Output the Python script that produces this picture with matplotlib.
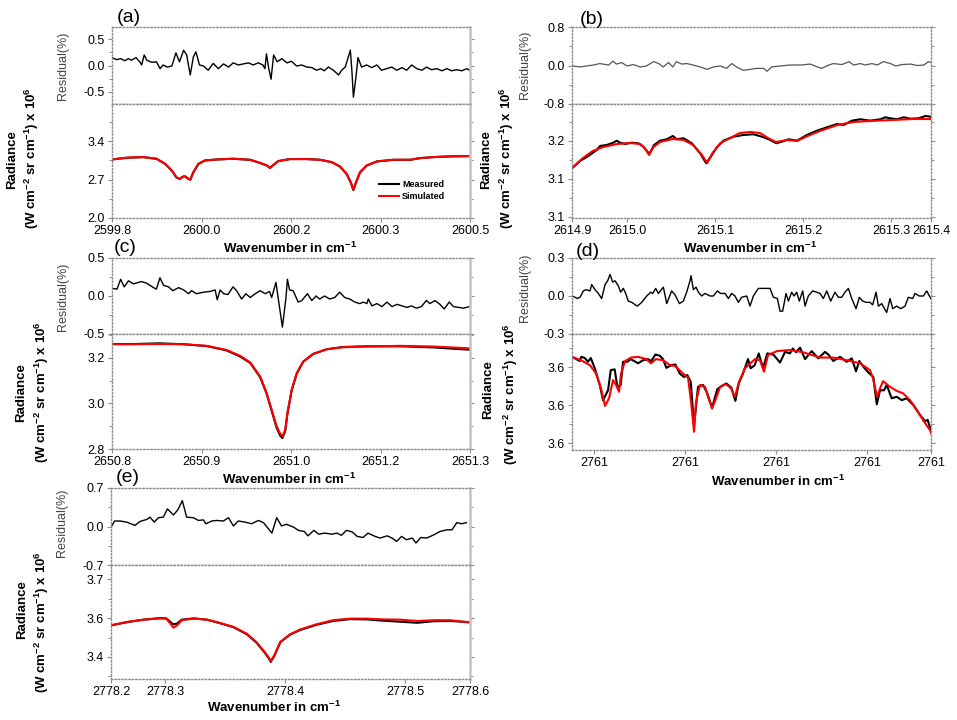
import matplotlib
matplotlib.use('Agg')
import matplotlib.pyplot as plt
from matplotlib.ticker import AutoMinorLocator

plt.rcParams['font.family'] = ['Liberation Sans', 'DejaVu Sans']
plt.rcParams['mathtext.fontset'] = 'custom'
plt.rcParams['mathtext.rm'] = 'Liberation Sans'
plt.rcParams['mathtext.bf'] = 'Liberation Sans:bold'
plt.rcParams['mathtext.it'] = 'Liberation Sans:italic'

# ---------------- panel (a) ----------------
a_res_x = [2599.800, 2599.809, 2599.817, 2599.825, 2599.832, 2599.838, 2599.847, 2599.855, 2599.858, 2599.863,
           2599.868, 2599.878, 2599.887, 2599.894, 2599.900, 2599.908, 2599.917, 2599.925, 2599.932, 2599.940,
           2599.946, 2599.953, 2599.959, 2599.964, 2599.971, 2599.979, 2599.988, 2599.998, 2600.008, 2600.018,
           2600.028, 2600.037, 2600.047, 2600.057, 2600.067, 2600.076, 2600.086, 2600.095, 2600.099, 2600.102,
           2600.106, 2600.111, 2600.116, 2600.123, 2600.132, 2600.142, 2600.151, 2600.161, 2600.171, 2600.181,
           2600.191, 2600.200, 2600.208, 2600.215, 2600.223, 2600.233, 2600.243, 2600.249, 2600.256, 2600.262,
           2600.266, 2600.269, 2600.272, 2600.277, 2600.281, 2600.288, 2600.298, 2600.308, 2600.318, 2600.327,
           2600.337, 2600.347, 2600.357, 2600.367, 2600.376, 2600.386, 2600.396, 2600.406, 2600.415, 2600.425,
           2600.435, 2600.445, 2600.455, 2600.464, 2600.474, 2600.484, 2600.494, 2600.499]
a_res = [0.15, 0.11, 0.13, 0.09, 0.13, 0.10, 0.15, 0.06, 0.01, 0.20,
         0.10, 0.06, 0.07, -0.06, 0.01, -0.03, -0.01, 0.24, 0.07, 0.29,
         0.20, -0.18, 0.16, 0.26, 0.01, -0.01, -0.09, 0.04, -0.06, 0.03,
         -0.03, 0.05, 0.01, 0.03, 0.05, 0.01, 0.05, 0.01, -0.06, 0.22,
         -0.03, -0.26, 0.20, 0.07, 0.13, 0.05, 0.08, -0.01, 0.01, -0.03,
         -0.04, -0.09, -0.06, -0.10, -0.03, -0.09, -0.18, -0.09, -0.03, 0.16,
         0.29, -0.09, -0.60, -0.22, 0.15, -0.03, 0.01, -0.04, 0.01, -0.09,
         -0.06, -0.03, -0.09, -0.04, -0.09, 0.01, -0.06, -0.09, -0.03, -0.08,
         -0.06, -0.10, -0.06, -0.10, -0.08, -0.10, -0.06, -0.09]
a_x = [2599.800, 2599.829, 2599.861, 2599.887, 2599.904, 2599.917, 2599.926, 2599.933, 2599.938, 2599.943,
       2599.949, 2599.953, 2599.959, 2599.969, 2599.982, 2600.005, 2600.037, 2600.070, 2600.089, 2600.103,
       2600.109, 2600.114, 2600.125, 2600.148, 2600.181, 2600.207, 2600.230, 2600.246, 2600.259, 2600.267,
       2600.272, 2600.277, 2600.285, 2600.298, 2600.318, 2600.350, 2600.383, 2600.402, 2600.429, 2600.461,
       2600.499]
a_sim = [3.068, 3.099, 3.111, 3.081, 2.989, 2.866, 2.743, 2.712, 2.755, 2.761,
         2.718, 2.700, 2.835, 2.989, 3.050, 3.068, 3.081, 3.062, 3.007, 2.958,
         2.915, 2.958, 3.038, 3.075, 3.075, 3.062, 3.019, 2.939, 2.804, 2.651,
         2.516, 2.651, 2.835, 2.958, 3.032, 3.062, 3.062, 3.093, 3.111, 3.124,
         3.130]
a_meas = [3.068, 3.100, 3.111, 3.080, 2.987, 2.864, 2.740, 2.710, 2.752, 2.759,
          2.715, 2.697, 2.833, 2.988, 3.050, 3.068, 3.081, 3.062, 3.006, 2.956,
          2.912, 2.956, 3.038, 3.075, 3.075, 3.062, 3.018, 2.937, 2.800, 2.645,
          2.508, 2.645, 2.833, 2.957, 3.032, 3.062, 3.062, 3.092, 3.111, 3.124,
          3.130]
a_xticks = [2599.8, 2599.975, 2600.15, 2600.325, 2600.5]
a_xlabels = ['2599.8', '2600.0', '2600.2', '2600.3', '2600.5']
a_res_ticks = [0.5, 0.0, -0.5]
a_res_labels = ['0.5', '0.0', '-0.5']
a_yticks = [2.0, 2.7, 3.4]
a_ylabels = ['2.0', '2.7', '3.4']

# ---------------- panel (b) ----------------
b_res_x = [2614.938, 2614.947, 2614.954, 2614.962, 2614.969, 2614.979, 2614.984, 2614.988, 2614.994, 2615.000,
           2615.007, 2615.015, 2615.022, 2615.030, 2615.036, 2615.041, 2615.047, 2615.052, 2615.056, 2615.062,
           2615.068, 2615.075, 2615.083, 2615.091, 2615.098, 2615.106, 2615.113, 2615.119, 2615.125, 2615.132,
           2615.140, 2615.147, 2615.155, 2615.159, 2615.164, 2615.174, 2615.185, 2615.197, 2615.208, 2615.216,
           2615.221, 2615.229, 2615.234, 2615.244, 2615.252, 2615.257, 2615.265, 2615.270, 2615.278, 2615.284,
           2615.291, 2615.299, 2615.305, 2615.312, 2615.322, 2615.329, 2615.337, 2615.342, 2615.345]
b_res = [-0.01, -0.03, -0.01, 0.01, 0.04, 0.01, 0.09, 0.03, 0.06, -0.01,
         0.02, -0.03, -0.01, 0.08, 0.04, -0.03, 0.06, -0.03, 0.08, 0.03,
         0.04, 0.01, -0.03, -0.08, -0.03, -0.01, -0.06, 0.04, -0.04, -0.10,
         -0.08, -0.06, -0.06, -0.12, -0.03, -0.01, 0.01, 0.01, 0.03, -0.03,
         -0.06, 0.01, 0.04, 0.02, 0.08, 0.01, 0.04, 0.01, 0.04, 0.01,
         0.08, 0.04, -0.01, 0.02, 0.03, 0.00, 0.01, 0.08, 0.06]
b_sim_x = [2614.9375, 2614.950, 2614.961, 2614.973, 2614.989, 2615.003, 2615.015, 2615.020, 2615.025, 2615.030,
           2615.0375, 2615.052, 2615.064, 2615.075, 2615.085, 2615.091, 2615.097, 2615.106, 2615.117, 2615.128,
           2615.140, 2615.151, 2615.160, 2615.169, 2615.182, 2615.193, 2615.205, 2615.219, 2615.239, 2615.257,
           2615.276, 2615.302, 2615.325, 2615.344]
b_sim = [3.1374, 3.1532, 3.1642, 3.1705, 3.1753, 3.1768, 3.1753, 3.1689, 3.1579, 3.1705,
         3.1784, 3.1832, 3.1816, 3.1737, 3.1579, 3.1453, 3.1611, 3.1768, 3.1847, 3.1926,
         3.1942, 3.1926, 3.1847, 3.1784, 3.1816, 3.1800, 3.1879, 3.1958, 3.2053, 3.2100,
         3.2116, 3.2132, 3.2147, 3.2147]
b_meas_x = [2614.9375, 2614.9466, 2614.9560, 2614.9656, 2614.9693, 2614.9769, 2614.9844, 2614.9883, 2614.9920, 2614.9977,
            2615.0053, 2615.0128, 2615.0185, 2615.0253, 2615.0307, 2615.0375, 2615.0451, 2615.0519, 2615.0565, 2615.0640,
            2615.0735, 2615.0830, 2615.0898, 2615.0963, 2615.1019, 2615.1094, 2615.1208, 2615.1322, 2615.1435, 2615.1531,
            2615.1625, 2615.1693, 2615.1758, 2615.1833, 2615.1928, 2615.2042, 2615.2156, 2615.2269, 2615.2383, 2615.2458,
            2615.2553, 2615.2648, 2615.2761, 2615.2875, 2615.2932, 2615.2989, 2615.3065, 2615.3140, 2615.3216, 2615.3310,
            2615.3386, 2615.3443]
b_meas = [3.1369, 3.1484, 3.1563, 3.1658, 3.1721, 3.1737, 3.1773, 3.1805, 3.1773, 3.1753,
          3.1773, 3.1764, 3.1710, 3.1595, 3.1737, 3.1805, 3.1827, 3.1879, 3.1827, 3.1843,
          3.1764, 3.1606, 3.1448, 3.1579, 3.1701, 3.1805, 3.1868, 3.1895, 3.1906, 3.1868,
          3.1816, 3.1764, 3.1789, 3.1827, 3.1805, 3.1895, 3.1963, 3.2016, 3.2068, 3.2053,
          3.2121, 3.2143, 3.2121, 3.2143, 3.2174, 3.2158, 3.2143, 3.2174, 3.2152, 3.2158,
          3.2195, 3.2184]
b_xticks = [2614.9375, 2615.0, 2615.1, 2615.2, 2615.3, 2615.345]
b_xlabels = ['2614.9', '2615.0', '2615.1', '2615.2', '2615.3', '2615.4']
b_res_ticks = [0.8, 0.0, -0.8]
b_res_labels = ['0.8', '0.0', '-0.8']
b_yticks = [3.06, 3.12, 3.18]
b_ylabels = ['3.1', '3.1', '3.2']

# ---------------- panel (c) ----------------
c_res_x = [2650.801, 2650.807, 2650.812, 2650.817, 2650.823, 2650.830, 2650.841, 2650.848, 2650.858, 2650.862,
           2650.867, 2650.872, 2650.879, 2650.885, 2650.893, 2650.900, 2650.907, 2650.911, 2650.918, 2650.928,
           2650.937, 2650.944, 2650.947, 2650.951, 2650.956, 2650.962, 2650.969, 2650.974, 2650.981, 2650.987,
           2650.993, 2651.000, 2651.007, 2651.014, 2651.020, 2651.023, 2651.029, 2651.032, 2651.038, 2651.043,
           2651.045, 2651.048, 2651.053, 2651.060, 2651.065, 2651.073, 2651.079, 2651.085, 2651.090, 2651.097,
           2651.104, 2651.111, 2651.118, 2651.125, 2651.132, 2651.139, 2651.146, 2651.151, 2651.156, 2651.158,
           2651.163, 2651.170, 2651.177, 2651.184, 2651.191, 2651.198, 2651.205, 2651.212, 2651.218, 2651.225,
           2651.232, 2651.239, 2651.244, 2651.251, 2651.258, 2651.264, 2651.271, 2651.277, 2651.284, 2651.291,
           2651.299]
c_res = [0.10, 0.09, 0.22, 0.12, 0.20, 0.16, 0.19, 0.17, 0.11, 0.09,
         0.24, 0.14, 0.12, 0.07, 0.11, 0.08, 0.03, 0.07, 0.03, 0.05,
         0.06, 0.08, -0.05, 0.08, 0.03, 0.02, 0.12, 0.07, -0.04, 0.03,
         -0.02, 0.03, 0.07, 0.03, 0.06, -0.02, 0.18, -0.02, -0.41, -0.02,
         0.22, 0.08, 0.07, -0.08, -0.06, 0.03, -0.06, 0.00, -0.04, 0.00,
         -0.04, -0.02, 0.05, -0.02, -0.04, -0.08, -0.10, -0.08, -0.10, -0.04,
         -0.13, -0.10, -0.14, -0.08, -0.14, -0.11, -0.13, -0.15, -0.13, -0.16,
         -0.14, -0.06, -0.10, -0.06, -0.11, -0.17, -0.08, -0.14, -0.15, -0.16,
         -0.14]
c_x = [2650.801, 2650.830, 2650.867, 2650.900, 2650.932, 2650.960, 2650.979, 2650.993, 2651.007, 2651.016,
       2651.023, 2651.030, 2651.035, 2651.038, 2651.042, 2651.045, 2651.051, 2651.058, 2651.067, 2651.081,
       2651.100, 2651.123, 2651.156, 2651.202, 2651.249, 2651.299]
c_sim = [3.260, 3.260, 3.261, 3.260, 3.253, 3.235, 3.209, 3.180, 3.118, 3.045,
         2.972, 2.899, 2.867, 2.855, 2.885, 2.958, 3.060, 3.133, 3.184, 3.218,
         3.238, 3.247, 3.250, 3.253, 3.250, 3.242]
c_meas = [3.261, 3.261, 3.264, 3.260, 3.252, 3.233, 3.206, 3.178, 3.115, 3.043,
          2.968, 2.893, 2.858, 2.848, 2.880, 2.955, 3.058, 3.131, 3.183, 3.217,
          3.238, 3.248, 3.251, 3.251, 3.246, 3.236]
c_xticks = [2650.8, 2650.925, 2651.05, 2651.175, 2651.3]
c_xlabels = ['2650.8', '2650.9', '2651.0', '2651.2', '2651.3']
c_res_ticks = [0.5, 0.0, -0.5]
c_res_labels = ['0.5', '0.0', '-0.5']
c_yticks = [2.8, 3.0, 3.2]
c_ylabels = ['2.8', '3.0', '3.2']

# ---------------- panel (d) ----------------
d_res_x = [2760.7758, 2760.7791, 2760.7817, 2760.7846, 2760.7883, 2760.7912, 2760.7956, 2760.7974, 2760.8011, 2760.8048,
           2760.8084, 2760.8121, 2760.8150, 2760.8176, 2760.8205, 2760.8231, 2760.8267, 2760.8293, 2760.8322, 2760.8348,
           2760.8377, 2760.8414, 2760.8476, 2760.8524, 2760.8579, 2760.8623, 2760.8645, 2760.8678, 2760.8707, 2760.8762,
           2760.8799, 2760.8853, 2760.8890, 2760.8938, 2760.8982, 2760.9018, 2760.9055, 2760.9066, 2760.9092, 2760.9121,
           2760.9147, 2760.9183, 2760.9220, 2760.9275, 2760.9311, 2760.9355, 2760.9392, 2760.9440, 2760.9476, 2760.9513,
           2760.9549, 2760.9586, 2760.9623, 2760.9678, 2760.9714, 2760.9751, 2760.9806, 2760.9861, 2760.9934, 2760.9971,
           2761.0015, 2761.0044, 2761.0073, 2761.0110, 2761.0136, 2761.0172, 2761.0198, 2761.0227, 2761.0256, 2761.0293,
           2761.0319, 2761.0355, 2761.0403, 2761.0447, 2761.0484, 2761.0520, 2761.0557, 2761.0601, 2761.0648, 2761.0685,
           2761.0722, 2761.0758, 2761.0795, 2761.0832, 2761.0879, 2761.0916, 2761.0952, 2761.0989, 2761.1033, 2761.1062,
           2761.1099, 2761.1125, 2761.1161, 2761.1216, 2761.1253, 2761.1282, 2761.1326, 2761.1370, 2761.1418, 2761.1454,
           2761.1502, 2761.1527, 2761.1575, 2761.1619, 2761.1656, 2761.1685, 2761.1703]
d_res = [0.00, -0.01, -0.02, -0.01, 0.04, 0.05, 0.04, 0.09, 0.05, 0.02,
         -0.02, 0.09, 0.12, 0.17, 0.11, 0.12, 0.08, 0.03, 0.06, 0.02,
         -0.04, -0.05, -0.08, -0.05, 0.00, 0.03, 0.02, 0.06, 0.02, 0.07,
         -0.06, 0.04, 0.01, -0.06, -0.04, 0.03, 0.12, 0.16, 0.05, 0.07,
         0.03, 0.00, 0.02, 0.00, 0.00, 0.04, 0.02, 0.02, -0.02, 0.02,
         0.00, -0.05, -0.01, 0.00, -0.08, 0.00, 0.06, 0.06, 0.06, -0.01,
         -0.02, -0.12, -0.12, 0.02, -0.04, 0.03, 0.00, 0.03, -0.04, 0.04,
         -0.08, 0.00, 0.04, 0.03, 0.02, -0.02, 0.04, -0.04, 0.03, -0.01,
         -0.01, 0.03, 0.06, -0.02, -0.10, -0.01, -0.04, -0.05, -0.05, -0.07,
         0.03, -0.08, -0.06, -0.13, -0.02, -0.10, -0.08, -0.10, -0.08, -0.01,
         -0.02, 0.02, 0.00, 0.00, 0.04, 0.00, -0.02]
d_sim_x = [2760.7758, 2760.7857, 2760.7956, 2760.8022, 2760.8077, 2760.8121, 2760.8165, 2760.8209, 2760.8242, 2760.8275,
           2760.8297, 2760.8341, 2760.8407, 2760.8484, 2760.8571, 2760.8626, 2760.8681, 2760.8758, 2760.8835, 2760.8890,
           2760.8956, 2760.9033, 2760.9066, 2760.9099, 2760.9121, 2760.9165, 2760.9220, 2760.9253, 2760.9297, 2760.9341,
           2760.9385, 2760.9451, 2760.9505, 2760.9549, 2760.9593, 2760.9659, 2760.9769, 2760.9824, 2760.9868, 2760.9912,
           2761.0011, 2761.0154, 2761.0297, 2761.0484, 2761.0626, 2761.0780, 2761.0923, 2761.1033, 2761.1066, 2761.1110,
           2761.1143, 2761.1176, 2761.1253, 2761.1330, 2761.1396, 2761.1473, 2761.1549, 2761.1615, 2761.1692, 2761.1714]
d_sim = [3.6027, 3.6018, 3.6005, 3.5983, 3.5944, 3.5898, 3.5918, 3.5966, 3.5953, 3.5935,
         3.5983, 3.6016, 3.6025, 3.6027, 3.6021, 3.6010, 3.6021, 3.6018, 3.6005, 3.6003,
         3.5988, 3.5972, 3.5909, 3.5830, 3.5909, 3.5953, 3.5948, 3.5922, 3.5891, 3.5918,
         3.5948, 3.5955, 3.5944, 3.5922, 3.5961, 3.5997, 3.6021, 3.6018, 3.5988, 3.6032,
         3.6042, 3.6045, 3.6039, 3.6025, 3.6025, 3.6018, 3.6010, 3.5992, 3.5970, 3.5922,
         3.5944, 3.5963, 3.5948, 3.5937, 3.5931, 3.5913, 3.5887, 3.5861, 3.5834, 3.5821]
d_meas_x = [2760.7758, 2760.7805, 2760.7843, 2760.7860, 2760.7898, 2760.7934, 2760.7964, 2760.8008, 2760.8063, 2760.8099,
            2760.8154, 2760.8184, 2760.8227, 2760.8256, 2760.8293, 2760.8319, 2760.8366, 2760.8403, 2760.8440, 2760.8484,
            2760.8538, 2760.8593, 2760.8630, 2760.8674, 2760.8722, 2760.8758, 2760.8795, 2760.8849, 2760.8893, 2760.8942,
            2760.8989, 2760.9025, 2760.9063, 2760.9099, 2760.9143, 2760.9198, 2760.9245, 2760.9297, 2760.9355, 2760.9407,
            2760.9454, 2760.9509, 2760.9553, 2760.9590, 2760.9637, 2760.9692, 2760.9722, 2760.9766, 2760.9810, 2760.9857,
            2760.9904, 2760.9970, 2761.0044, 2761.0099, 2761.0154, 2761.0184, 2761.0220, 2761.0264, 2761.0319, 2761.0392,
            2761.0465, 2761.0538, 2761.0575, 2761.0630, 2761.0703, 2761.0777, 2761.0832, 2761.0879, 2761.0915, 2761.0959,
            2761.1014, 2761.1069, 2761.1107, 2761.1143, 2761.1187, 2761.1216, 2761.1271, 2761.1326, 2761.1381, 2761.1436,
            2761.1509, 2761.1582, 2761.1637, 2761.1667, 2761.1711]
d_meas = [3.6027, 3.6021, 3.6016, 3.6027, 3.6024, 3.6014, 3.6024, 3.5997, 3.5953, 3.5913,
          3.5939, 3.5992, 3.5994, 3.5948, 3.5953, 3.6014, 3.6014, 3.6021, 3.6016, 3.6010,
          3.6018, 3.6021, 3.6016, 3.6033, 3.6030, 3.6021, 3.5998, 3.6005, 3.6007, 3.5983,
          3.5974, 3.5979, 3.5961, 3.5847, 3.5948, 3.5953, 3.5931, 3.5893, 3.5942, 3.5951,
          3.5957, 3.5946, 3.5911, 3.5957, 3.5983, 3.6021, 3.5997, 3.6005, 3.6036, 3.5997,
          3.6036, 3.6033, 3.6012, 3.6040, 3.6036, 3.6049, 3.6039, 3.6051, 3.6021, 3.6042,
          3.6023, 3.6040, 3.6033, 3.6016, 3.6027, 3.6014, 3.6023, 3.5989, 3.6016, 3.6001,
          3.5986, 3.5974, 3.5902, 3.5939, 3.5939, 3.5953, 3.5918, 3.5922, 3.5913, 3.5918,
          3.5900, 3.5874, 3.5858, 3.5861, 3.5826]
d_xticks = [2760.8, 2760.9, 2761.0, 2761.1, 2761.1703]
d_xlabels = ['2761', '2761', '2761', '2761', '2761']
d_res_ticks = [0.3, 0.0, -0.3]
d_res_labels = ['0.3', '0.0', '-0.3']
d_yticks = [3.58, 3.59, 3.60]
d_ylabels = ['3.6', '3.6', '3.6']

# ---------------- panel (e) ----------------
e_res_x = [2778.255, 2778.258, 2778.2625, 2778.268, 2778.275, 2778.279, 2778.285, 2778.2875, 2778.291, 2778.2945,
           2778.2986, 2778.302, 2778.307, 2778.3106, 2778.3144, 2778.318, 2778.3236, 2778.3278, 2778.332, 2778.334,
           2778.339, 2778.343, 2778.3486, 2778.3528, 2778.357, 2778.361, 2778.3667, 2778.372, 2778.3778, 2778.382,
           2778.389, 2778.393, 2778.397, 2778.401, 2778.407, 2778.411, 2778.416, 2778.419, 2778.424, 2778.428,
           2778.433, 2778.439, 2778.443, 2778.447, 2778.451, 2778.456, 2778.460, 2778.465, 2778.469, 2778.475,
           2778.479, 2778.485, 2778.489, 2778.493, 2778.497, 2778.501, 2778.506, 2778.509, 2778.513, 2778.518,
           2778.524, 2778.529, 2778.535, 2778.539, 2778.543, 2778.547, 2778.551]
e_res = [-0.01, 0.10, 0.10, 0.08, 0.02, 0.09, 0.13, 0.17, 0.08, 0.16,
         0.17, 0.32, 0.21, 0.30, 0.47, 0.17, 0.16, 0.11, 0.12, 0.05,
         0.10, 0.11, 0.10, 0.16, 0.01, 0.10, 0.08, 0.05, 0.11, 0.07,
         -0.12, 0.16, 0.01, 0.04, -0.01, -0.07, -0.09, -0.17, -0.07, -0.14,
         -0.12, -0.14, -0.12, -0.16, -0.07, -0.10, -0.18, -0.20, -0.12, -0.18,
         -0.21, -0.17, -0.21, -0.27, -0.18, -0.24, -0.21, -0.30, -0.20, -0.21,
         -0.15, -0.09, -0.06, -0.06, 0.07, 0.05, 0.07]
e_x = [2778.255, 2778.268, 2778.282, 2778.296, 2778.301, 2778.305, 2778.307, 2778.310, 2778.314, 2778.324,
       2778.335, 2778.346, 2778.357, 2778.368, 2778.376, 2778.383, 2778.387, 2778.388, 2778.391, 2778.396,
       2778.404, 2778.4125, 2778.426, 2778.440, 2778.454, 2778.468, 2778.482, 2778.496, 2778.510, 2778.524,
       2778.5375, 2778.554]
e_sim = [3.542, 3.555, 3.564, 3.569, 3.568, 3.546, 3.533, 3.542, 3.562, 3.568,
         3.564, 3.551, 3.536, 3.510, 3.478, 3.439, 3.413, 3.404, 3.426, 3.478,
         3.507, 3.526, 3.546, 3.562, 3.568, 3.568, 3.565, 3.564, 3.559, 3.562,
         3.562, 3.553]
e_meas = [3.542, 3.554, 3.564, 3.570, 3.569, 3.553, 3.546, 3.549, 3.564, 3.569,
          3.564, 3.550, 3.535, 3.508, 3.476, 3.437, 3.411, 3.401, 3.424, 3.477,
          3.506, 3.524, 3.544, 3.559, 3.566, 3.565, 3.560, 3.556, 3.552, 3.558,
          3.559, 3.554]
e_xticks = [2778.255, 2778.3, 2778.4, 2778.5, 2778.554]
e_xlabels = ['2778.2', '2778.3', '2778.4', '2778.5', '2778.6']
e_res_ticks = [0.7, 0.0, -0.7]
e_res_labels = ['0.7', '0.0', '-0.7']
e_yticks = [3.42, 3.57, 3.72]
e_ylabels = ['3.4', '3.6', '3.7']

W, H = 957, 720
SPINE = '#8c8c8c'


def fx(px):
    return px / W


def fy(py):
    return 1 - py / H


def rect(x0, x1, y0, y1):
    return [fx(x0), fy(y1), (x1 - x0) / W, (y1 - y0) / H]


def style(ax, solid_right):
    for s in ax.spines.values():
        s.set_linestyle((0, (1, 1.5)))
        s.set_color(SPINE)
        s.set_linewidth(1.0)
    if solid_right:
        # left column panels have a plain grey right edge
        ax.spines['right'].set_linestyle('-')
        ax.spines['right'].set_color('#c4c4c4')
        ax.spines['right'].set_linewidth(1.8)
    ax.tick_params(direction='out', length=3, width=0.8, color=SPINE,
                   labelsize=9, pad=2)
    ax.tick_params(axis='y', which='both', right=True)
    ax.tick_params(axis='y', which='minor', length=2, width=0.7, color=SPINE)
    ax.yaxis.set_minor_locator(AutoMinorLocator(2))


def panel(fig, lay, res_x, res_y, meas_x, meas_y, sim_x, sim_y,
          xlim, xticks, xlabels, res_lim, res_ticks, res_labels,
          ylim, yticks, ylabels, res_color='black', res_lw=1.0):
    x0, x1, ytop, ymid, ybot = lay['box']
    ax_r = fig.add_axes(rect(x0, x1, ytop, ymid))
    ax_s = fig.add_axes(rect(x0, x1, ymid, ybot))

    ax_r.plot(res_x, res_y, color=res_color, lw=res_lw)
    ax_s.plot(meas_x, meas_y, color='black', lw=1.5, label='Measured')
    ax_s.plot(sim_x, sim_y, color='red', lw=1.5, label='Simulated')

    ax_r.set_ylim(res_lim)
    ax_r.set_yticks(res_ticks)
    ax_r.set_yticklabels(res_labels)
    ax_s.set_ylim(ylim)
    ax_s.set_yticks(yticks)
    ax_s.set_yticklabels(ylabels)
    for ax in (ax_r, ax_s):
        ax.set_xlim(xlim)
        ax.set_xticks(xticks)
        style(ax, lay['solid_right'])
    ax_r.set_xticklabels([])
    ax_s.set_xticklabels(xlabels)

    # labels placed in figure pixels
    tx, ty = lay['tag']
    fig.text(fx(tx), fy(ty), lay['name'], fontsize=14, ha='center', va='center')
    rx, ry = lay['res_lab']
    fig.text(fx(rx), fy(ry), 'Residual(%)', fontsize=9, color='#444444',
             rotation=90, ha='center', va='center')
    r1x, r1y, r2x, r2y = lay['rad_lab']
    fig.text(fx(r1x), fy(r1y), 'Radiance', fontsize=9.5, fontweight='bold',
             rotation=90, ha='center', va='center')
    fig.text(fx(r2x), fy(r2y),
             r'(W cm$^{\mathbf{-2}}$ sr cm$^{\mathbf{-1}}$) x 10$^{\mathbf{6}}$',
             fontsize=9.5, fontweight='bold', rotation=90, ha='center', va='center')
    wx, wy = lay['wave_lab']
    fig.text(fx(wx), fy(wy), r'Wavenumber in cm$^{\mathbf{-1}}$', fontsize=9.5,
             fontweight='bold', ha='center', va='center')
    return ax_r, ax_s


fig = plt.figure(figsize=(W / 100, H / 100), dpi=100)

lay_a = dict(name='(a)', box=(112, 470, 27, 104, 218), tag=(129, 17), solid_right=True,
             res_lab=(63, 66), rad_lab=(12, 160, 32, 158), wave_lab=(290, 248))
lay_b = dict(name='(b)', box=(572, 931, 27, 104, 218), tag=(592, 19), solid_right=False,
             res_lab=(525, 65), rad_lab=(486, 160, 507, 158), wave_lab=(750, 248))
lay_c = dict(name='(c)', box=(112, 470, 258, 334, 449), tag=(125, 248), solid_right=True,
             res_lab=(63, 297), rad_lab=(21, 393, 42, 392), wave_lab=(289, 479))
lay_d = dict(name='(d)', box=(572, 931, 258, 334, 450), tag=(588, 251), solid_right=False,
             res_lab=(525, 288), rad_lab=(488, 390, 511, 394), wave_lab=(778, 481))
lay_e = dict(name='(e)', box=(111, 470, 488, 565, 679), tag=(128, 478), solid_right=True,
             res_lab=(62, 523), rad_lab=(22, 610, 42, 622), wave_lab=(274, 707))

_, ax_a = panel(fig, lay_a, a_res_x, a_res, a_x, a_meas, a_x, a_sim,
                (2599.8, 2600.5), a_xticks, a_xlabels,
                (-0.73, 0.73), a_res_ticks, a_res_labels,
                (2.0, 4.08), a_yticks, a_ylabels)
ax_a.legend(loc='center left', bbox_to_anchor=(fx(374), fy(190.5)),
            bbox_transform=fig.transFigure, frameon=False, borderpad=0,
            handlelength=2.3, handletextpad=0.3, labelspacing=0.35,
            prop={'size': 6.5, 'weight': 'bold'})

panel(fig, lay_b, b_res_x, b_res, b_meas_x, b_meas, b_sim_x, b_sim,
      (2614.9375, 2615.345), b_xticks, b_xlabels,
      (-0.8, 0.8), b_res_ticks, b_res_labels,
      (3.0584, 3.2384), b_yticks, b_ylabels, res_color='#555555', res_lw=0.9)

panel(fig, lay_c, c_res_x, c_res, c_x, c_meas, c_x, c_sim,
      (2650.8, 2651.3), c_xticks, c_xlabels,
      (-0.5, 0.5), c_res_ticks, c_res_labels,
      (2.8, 3.305), c_yticks, c_ylabels)

panel(fig, lay_d, d_res_x, d_res, d_meas_x, d_meas, d_sim_x, d_sim,
      (2760.7758, 2761.1703), d_xticks, d_xlabels,
      (-0.3, 0.3), d_res_ticks, d_res_labels,
      (3.5782, 3.6087), d_yticks, d_ylabels)

panel(fig, lay_e, e_res_x, e_res, e_x, e_meas, e_x, e_sim,
      (2778.255, 2778.554), e_xticks, e_xlabels,
      (-0.7, 0.7), e_res_ticks, e_res_labels,
      (3.335, 3.775), e_yticks, e_ylabels)

fig.savefig('out.png', dpi=100)
